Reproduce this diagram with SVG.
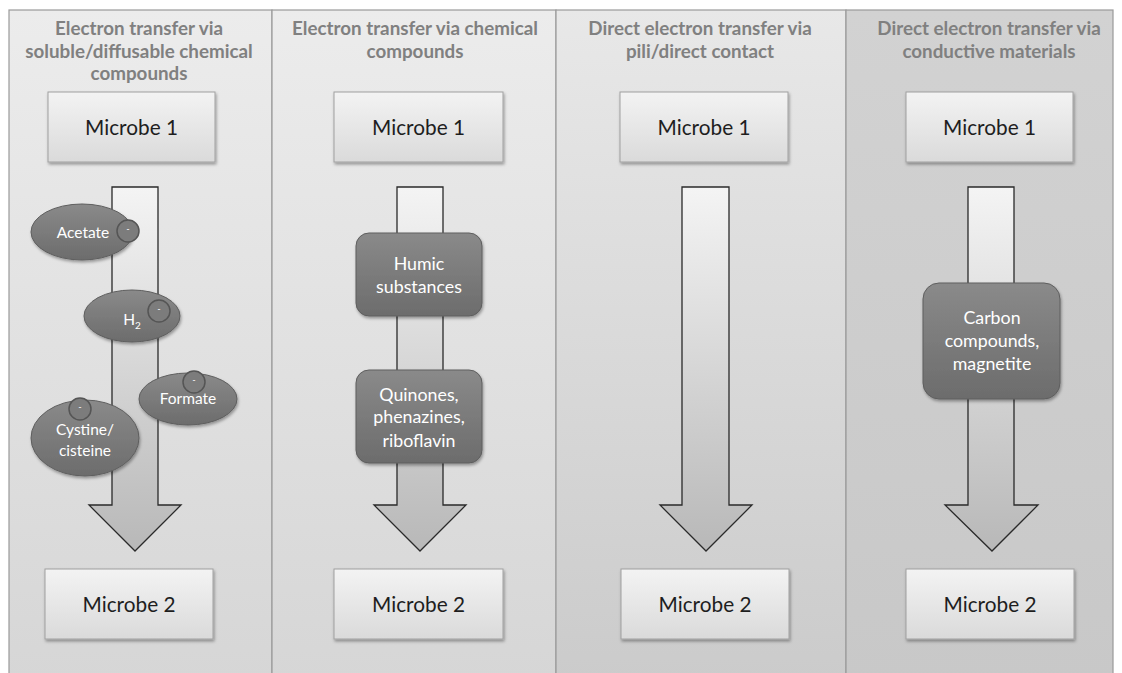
<svg xmlns="http://www.w3.org/2000/svg" width="1122" height="673" viewBox="0 0 1122 673">
<defs>
<linearGradient id="pA" x1="0" y1="0" x2="0" y2="1"><stop offset="0" stop-color="#ececec"/><stop offset="1" stop-color="#d6d6d6"/></linearGradient>
<linearGradient id="pB" x1="0" y1="0" x2="0" y2="1"><stop offset="0" stop-color="#e8e8e8"/><stop offset="1" stop-color="#cbcbcb"/></linearGradient>
<linearGradient id="pC" x1="0" y1="0" x2="0" y2="1"><stop offset="0" stop-color="#d2d2d2"/><stop offset="1" stop-color="#c8c8c8"/></linearGradient>
<linearGradient id="box" x1="0" y1="0" x2="0" y2="1"><stop offset="0" stop-color="#f3f3f3"/><stop offset="1" stop-color="#dadada"/></linearGradient>
<linearGradient id="arr" x1="0" y1="0" x2="0" y2="1"><stop offset="0" stop-color="#f4f4f4"/><stop offset="1" stop-color="#b8b8b8"/></linearGradient>
<linearGradient id="dark" x1="0" y1="0" x2="0" y2="1"><stop offset="0" stop-color="#8a8a8a"/><stop offset="1" stop-color="#6c6c6c"/></linearGradient>
<filter id="sh" x="-10%" y="-10%" width="130%" height="130%"><feDropShadow dx="1" dy="2" stdDeviation="1.5" flood-color="#000" flood-opacity="0.35"/></filter>
</defs>
<style>
.panel{stroke:#9a9a9a;stroke-width:1.2}
.title{font-family:Lato,"Open Sans","Liberation Sans",sans-serif;font-weight:bold;font-size:18.8px;fill:#808080;text-anchor:middle}
.mbox{fill:url(#box);stroke:#a0a0a0;stroke-width:1;filter:url(#sh)}
.mtext{font-family:Lato,"Open Sans","Liberation Sans",sans-serif;font-size:20.8px;fill:#1e1e1e;text-anchor:middle}
.arrow{fill:url(#arr);stroke:#2a2a2a;stroke-width:1.3}
.dk{fill:url(#dark);stroke:#5e5e5e;stroke-width:1;filter:url(#sh)}
.ion{fill:#7c7c7c;stroke:#555;stroke-width:1.5}
.wt{font-family:Lato,"Open Sans","Liberation Sans",sans-serif;font-size:15.5px;fill:#ffffff;text-anchor:middle}
.wt2{font-family:Lato,"Open Sans","Liberation Sans",sans-serif;font-size:17.8px;fill:#ffffff;text-anchor:middle}
.minus{font-family:"Liberation Sans",sans-serif;font-size:9px;fill:#ffffff;text-anchor:middle}
</style>

<g id="panels">
<rect class="panel" x="9" y="10" width="263" height="670" fill="url(#pA)"/>
<rect class="panel" x="272" y="10" width="284" height="670" fill="url(#pA)"/>
<rect class="panel" x="556" y="10" width="290" height="670" fill="url(#pB)"/>
<rect class="panel" x="846" y="10" width="267" height="670" fill="url(#pC)"/>
</g>

<g id="titles">
<text class="title" x="139" y="35">Electron transfer via</text>
<text class="title" x="139" y="58">soluble/diffusable chemical</text>
<text class="title" x="139" y="80">compounds</text>
<text class="title" x="415" y="35">Electron transfer via chemical</text>
<text class="title" x="415" y="58">compounds</text>
<text class="title" x="700" y="35">Direct electron transfer via</text>
<text class="title" x="700" y="58">pili/direct contact</text>
<text class="title" x="989" y="35">Direct electron transfer via</text>
<text class="title" x="989" y="58">conductive materials</text>
</g>

<g id="connectors">
<polygon class="arrow" points="112,187 158,187 158,505 181,505 135,551 89,505 112,505"/>
<polygon class="arrow" points="397,187 443,187 443,505 466,505 420,551 374,505 397,505"/>
<polygon class="arrow" points="682,187 729,187 729,505 752,505 706,551 660,505 682,505"/>
<polygon class="arrow" points="968,187 1014,187 1014,505 1038,505 992,551 945,505 968,505"/>
</g>

<g id="microbe1-p1"><rect class="mbox" x="48" y="92" width="167" height="70"/><text class="mtext" x="131.5" y="135">Microbe 1</text></g>
<g id="microbe1-p2"><rect class="mbox" x="334" y="92" width="169" height="70"/><text class="mtext" x="418.5" y="135">Microbe 1</text></g>
<g id="microbe1-p3"><rect class="mbox" x="620" y="92" width="168" height="70"/><text class="mtext" x="704" y="135">Microbe 1</text></g>
<g id="microbe1-p4"><rect class="mbox" x="906" y="92" width="167" height="70"/><text class="mtext" x="989.5" y="135">Microbe 1</text></g>

<g id="microbe2-p1"><rect class="mbox" x="45" y="569" width="168" height="70"/><text class="mtext" x="129" y="612">Microbe 2</text></g>
<g id="microbe2-p2"><rect class="mbox" x="334" y="569" width="169" height="70"/><text class="mtext" x="418.5" y="612">Microbe 2</text></g>
<g id="microbe2-p3"><rect class="mbox" x="621" y="569" width="168" height="70"/><text class="mtext" x="705" y="612">Microbe 2</text></g>
<g id="microbe2-p4"><rect class="mbox" x="906" y="569" width="168" height="70"/><text class="mtext" x="990" y="612">Microbe 2</text></g>

<g id="acetate"><ellipse class="dk" cx="82" cy="232" rx="51" ry="28"/><text class="wt" x="83" y="238">Acetate</text><circle class="ion" cx="128" cy="231" r="11"/><text class="minus" x="128" y="232">-</text></g>
<g id="h2"><ellipse class="dk" cx="132" cy="316" rx="48" ry="26"/><text class="wt" x="132" y="325" font-size="15">H<tspan font-size="10" dy="4">2</tspan></text><circle class="ion" cx="159" cy="311" r="11"/><text class="minus" x="159" y="312">-</text></g>
<g id="formate"><ellipse class="dk" cx="188" cy="399" rx="49" ry="26"/><text class="wt" x="188" y="404" font-size="14.5">Formate</text><circle class="ion" cx="194" cy="382" r="11"/><text class="minus" x="194" y="383">-</text></g>
<g id="cystine"><ellipse class="dk" cx="85" cy="438" rx="54" ry="38"/><text class="wt" x="85" y="435">Cystine/</text><text class="wt" x="85" y="456">cisteine</text><circle class="ion" cx="80" cy="409" r="11"/><text class="minus" x="80" y="410">-</text></g>

<g id="humic"><rect class="dk" x="356" y="233" width="126" height="83" rx="13"/><text class="wt2" x="419" y="270">Humic</text><text class="wt2" x="419" y="293">substances</text></g>
<g id="quinones"><rect class="dk" x="356" y="370" width="126" height="93" rx="13"/><text class="wt2" x="419" y="401" font-size="18.3">Quinones,</text><text class="wt2" x="419" y="423" font-size="18.3">phenazines,</text><text class="wt2" x="419" y="447" font-size="18.3">riboflavin</text></g>
<g id="carbon"><rect class="dk" x="923" y="283" width="137" height="116" rx="16"/><text class="wt2" x="992" y="324" font-size="19.5">Carbon</text><text class="wt2" x="992" y="347" font-size="19.5">compounds,</text><text class="wt2" x="992" y="370" font-size="19.5">magnetite</text></g>
</svg>
